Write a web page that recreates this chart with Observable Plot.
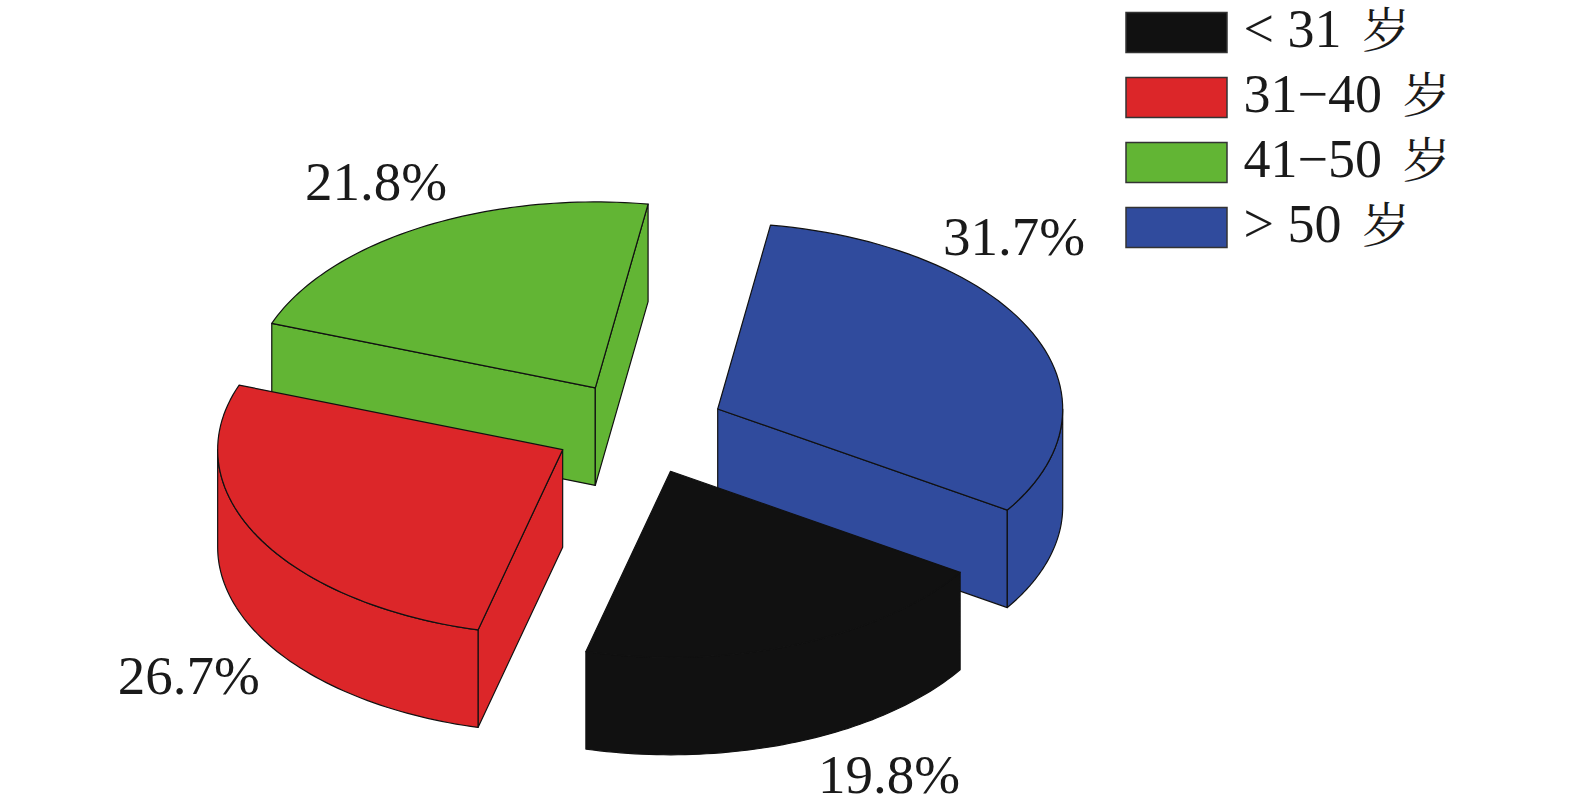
<!DOCTYPE html>
<html>
<head>
<meta charset="utf-8">
<script src="https://cdn.jsdelivr.net/npm/d3@7"></script>
<script src="https://cdn.jsdelivr.net/npm/@observablehq/plot@0.6"></script>
<style>html,body{margin:0;padding:0;background:#fff}svg{display:block}</style>
</head>
<body>
<div id="chart"></div>
<script>
// Data
const categories = ["< 31 岁", "31−40 岁", "41−50 岁", "> 50 岁"];
const colors = ["#111111", "#dc2629", "#62b534", "#304b9d"];
const shares = [19.8, 26.7, 21.8, 31.7];
const shareLabels = ["19.8%", "26.7%", "21.8%", "31.7%"];

// Pie layout (clockwise from the top, starting with the last category)
const W = 1575, H = 809;
const center = [638.5, 427.5], rx = 345, ry = 186, depth = 97.5, explode = 0.25, startDeg = 8.8;
const sliceOrder = [3, 0, 1, 2];
const paintOrder = [2, 3, 1, 0];
const labelNudge = {0: [92.5, 130.5], 1: [-68.5, 140.5], 2: [-44.5, -45], 3: [-18.5, -96]};

const rad = d => d * Math.PI / 180;
const slices = {};
let a = startDeg;
for (const i of sliceOrder) {
  const a0 = a, a1 = a + shares[i] * 3.6;
  a = a1;
  const m = rad((a0 + a1) / 2);
  slices[i] = {a0, a1, apex: [center[0] + explode * rx * Math.sin(m), center[1] - explode * ry * Math.cos(m)]};
}
const rim = (s, d, dz = 0) => [s.apex[0] + rx * Math.sin(rad(d)), s.apex[1] - ry * Math.cos(rad(d)) + dz];
const arc = (s, d0, d1, dz = 0) => d3.range(0, 61).map(k => rim(s, d0 + (d1 - d0) * k / 60, dz));

const faces = [];
const addFace = (cat, name, pts) => {
  const closed = [...pts, pts[0]];
  closed.forEach(p => faces.push({category: categories[cat], face: `${cat}-${name}`, x: p[0], y: p[1]}));
};
for (const i of paintOrder) {
  const s = slices[i];
  const down = p => [p[0], p[1] + depth];
  // radial walls facing the viewer
  for (const [name, d, show] of [["start", s.a0, Math.sin(rad(s.a0)) < 0], ["end", s.a1, Math.sin(rad(s.a1)) > 0]]) {
    if (show) {
      const r = rim(s, d);
      addFace(i, name, [s.apex, r, down(r), down(s.apex)]);
    }
  }
  // outer wall: the part of the rim on the front half
  for (const [lo, hi] of [[90, 270], [450, 630]]) {
    const d0 = Math.max(s.a0, lo), d1 = Math.min(s.a1, hi);
    if (d1 > d0) addFace(i, "wall" + lo, [...arc(s, d0, d1), ...arc(s, d1, d0, depth)]);
  }
  // top
  addFace(i, "top", [s.apex, ...arc(s, s.a0, s.a1)]);
}

const pieLabels = shareLabels.map((t, i) => {
  const s = slices[i], p = rim(s, (s.a0 + s.a1) / 2);
  return {t, x: p[0] + labelNudge[i][0], y: p[1] + labelNudge[i][1]};
});

// Legend
const legendX = 1126, legendW = 101, legendH = 40, legendTop = 12.5, legendStep = 65;
const legendRows = categories.map((c, i) => ({
  c,
  y1: legendTop + i * legendStep,
  y2: legendTop + i * legendStep + legendH
}));

const font = '"Liberation Serif", "Noto Serif CJK SC", "Noto Sans CJK SC", serif';

const chart = Plot.plot({
  width: W,
  height: H,
  margin: 0,
  style: {background: "#fff", fontFamily: font},
  x: {domain: [0, W], range: [0, W], axis: null},
  y: {domain: [0, H], range: [0, H], axis: null},
  color: {domain: categories, range: colors},
  marks: [
    Plot.line(faces, {x: "x", y: "y", z: "face", fill: "category", stroke: "#111", strokeWidth: 1.2, strokeLinejoin: "round"}),
    Plot.text(pieLabels, {x: "x", y: "y", text: "t", fontSize: 55, fill: "#1a1a1a", fontFamily: font}),
    Plot.rect(legendRows, {x1: () => legendX, x2: () => legendX + legendW, y1: "y1", y2: "y2", fill: "c", stroke: "#333", strokeWidth: 1.5}),
    Plot.text(legendRows, {x: () => legendX + legendW + 16, y: d => (d.y1 + d.y2) / 2 - 3, text: "c", textAnchor: "start", fontSize: 54, fill: "#1a1a1a", fontFamily: font})
  ]
});
document.getElementById("chart").appendChild(chart);
// The 岁 glyph is set smaller than the digits, as in the reference
d3.select(chart).selectAll("text").each(function () {
  const t = this.textContent;
  if (t.endsWith("岁")) {
    d3.select(this).text(t.slice(0, -1));
    d3.select(this).append("tspan").attr("font-size", 48).attr("dx", 7).text("岁");
  }
});
</script>
</body>
</html>
